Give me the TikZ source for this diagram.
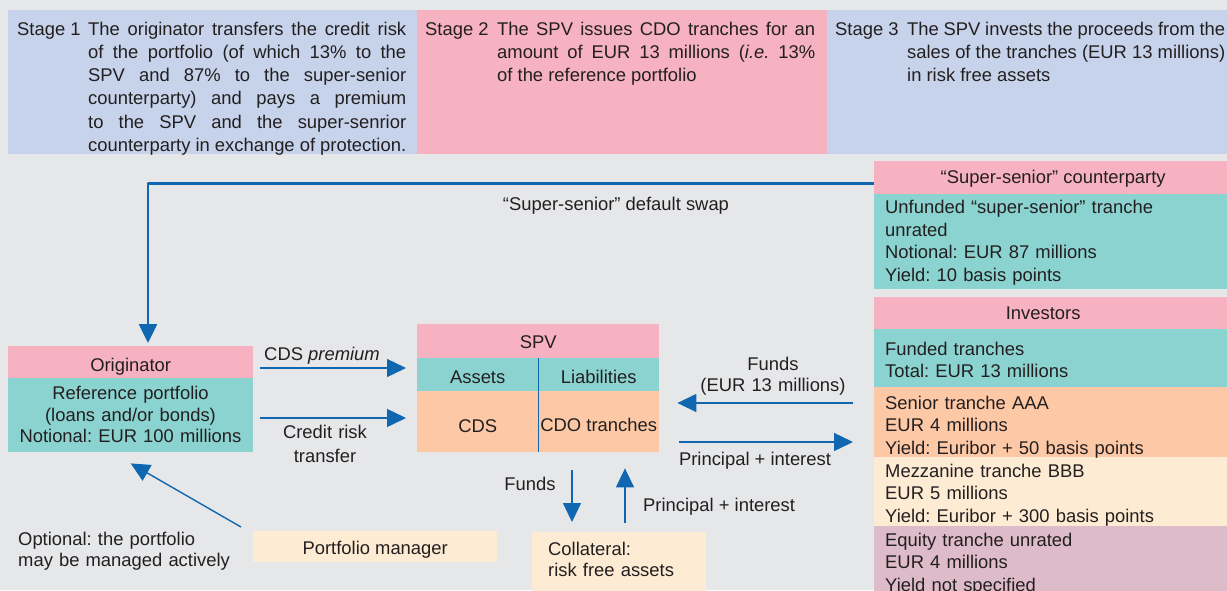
\documentclass[tikz,border=0pt]{standalone}
\usepackage{fontspec}
\setmainfont{Liberation Sans}
\usetikzlibrary{arrows.meta}
\frenchspacing

\definecolor{bggray}{HTML}{E6E7E9}
\definecolor{stageblue}{HTML}{C6D3EA}
\definecolor{boxpink}{HTML}{F6B2C0}
\definecolor{boxteal}{HTML}{8BD3D0}
\definecolor{boxorange}{HTML}{FDC8A5}
\definecolor{boxcream}{HTML}{FEEBD3}
\definecolor{boxmauve}{HTML}{DDBBC9}
\definecolor{flowblue}{HTML}{0F67B1}
\definecolor{inkgray}{HTML}{231F20}

\begin{document}
\begin{tikzpicture}[x=1pt, y=-1pt, font=\fontsize{18.4}{22.7}\selectfont, text=inkgray,
    >={Triangle[length=19pt,width=18pt]}, line join=round,
    cell/.style={fill=#1, anchor=north west, inner sep=0pt, text height=13.2pt, text depth=0pt},
    txt/.style={anchor=base west, inner sep=0pt, align=left},
    flow/.style={->, flowblue, line width=1.4pt}]
	\path[use as bounding box, fill=bggray] (0,0) rectangle (1227,590);

	% stages
	\node[cell=stageblue, minimum width=409pt, minimum height=144pt] (stage1) at (8,10) {};
	\node[cell=boxpink, minimum width=410pt, minimum height=144pt] (stage2) at (417,10) {};
	\node[cell=stageblue, minimum width=400pt, minimum height=144pt] (stage3) at (827,10) {};
	\node[txt] (stage1no) at (17,35) {Stage 1};
	\node[txt] (stage2no) at (425,35) {Stage 2};
	\node[txt] (stage3no) at (835,35) {Stage 3};
	\begin{scope}[every node/.style={txt, text width=318pt, align=justify, font=\fontsize{18.4}{23.3}\selectfont}]
		\node (stage1txt) at (88,35) {The originator transfers the credit risk\linebreak of the portfolio (of which 13\% to the\linebreak SPV and 87\% to the super-senior\linebreak counterparty) and pays a premium\linebreak to the SPV and the super-senrior\linebreak counterparty in exchange of protection.};
		\node (stage2txt) at (497,35) {The SPV issues CDO tranches for an\linebreak amount of EUR 13 millions (\textit{i.e.} 13\%\linebreak of the reference portfolio};
		\node (stage3txt) at (907,35) {The SPV invests the proceeds from the\linebreak sales of the tranches (EUR 13 millions)\linebreak in risk free assets};
	\end{scope}

	% originator, SPV, collateral
	\node[cell=boxpink, minimum width=245pt, minimum height=32pt, text height=18pt] (orighead) at (8,346) {Originator};
	\node[cell=boxteal, minimum width=245pt, minimum height=74pt] (origbody) at (8,378) {};
	\node[txt, anchor=base, text width=245pt, align=center, font=\fontsize{18.4}{21.7}\selectfont] (origtxt) at (130.5,399.5) {Reference portfolio\\(loans and/or bonds)\\Notional: EUR 100 millions};
	\node[cell=boxpink, minimum width=242pt, minimum height=34pt, text height=14pt] (spvhead) at (417,324) {SPV};
	\node[cell=boxteal, minimum width=121pt, minimum height=33pt, text height=17pt] (spvassets) at (417,358) {Assets};
	\node[cell=boxteal, minimum width=121pt, minimum height=33pt, text height=17pt] (spvliab) at (538,358) {Liabilities};
	\node[cell=boxorange, minimum width=121pt, minimum height=61pt, text height=21pt] (spvcds) at (417,391) {CDS};
	\node[cell=boxorange, minimum width=121pt, minimum height=61pt, text height=20pt] (spvcdo) at (538,391) {CDO tranches};
	\draw[flowblue, line width=1.4pt] (spvassets.north east) -- (spvcds.south east);
	\node[cell=boxcream, minimum width=244pt, minimum height=31pt, text height=16pt] (pmgr) at (253,531) {Portfolio manager};
	\node[cell=boxcream, minimum width=174pt, minimum height=66pt] (coll) at (532,532) {};
	\node[txt, text width=150pt, font=\fontsize{18.4}{21.7}\selectfont] (colltxt) at (548,555) {Collateral:\\risk free assets};
	\node[txt, text width=240pt, font=\fontsize{18.4}{21.7}\selectfont] (opttxt) at (18,545) {Optional: the portfolio\\may be managed actively};

	% counterparty and investors
	\node[cell=boxpink, minimum width=353pt, minimum height=33pt, text height=11pt] (sschead) at (874,161) {\hspace*{5pt}“Super-senior” counterparty};
	\node[cell=boxteal, minimum width=353pt, minimum height=95pt] (sscbody) at (874,194) {};
	\node[txt, text width=331pt] (ssctxt) at (885,213.3) {Unfunded “super-senior” tranche\\unrated\\Notional: EUR 87 millions\\Yield: 10 basis points};
	\node[cell=boxpink, minimum width=353pt, minimum height=32pt] (invhead) at (874,297) {Investors\hspace*{15pt}};
	\node[cell=boxteal, minimum width=353pt, minimum height=58pt] (invfund) at (874,329) {};
	\node[cell=boxorange, minimum width=353pt, minimum height=70pt] (invsen) at (874,387) {};
	\node[cell=boxcream, minimum width=353pt, minimum height=69pt] (invmezz) at (874,457) {};
	\node[cell=boxmauve, minimum width=353pt, minimum height=72pt] (invequ) at (874,526) {};
	\node[txt, text width=331pt] (fundtxt) at (885,355) {Funded tranches\\Total: EUR 13 millions};
	\node[txt, text width=331pt] (sentxt) at (885,409) {Senior tranche AAA\\EUR 4 millions\\Yield: Euribor + 50 basis points};
	\node[txt, text width=331pt] (mezztxt) at (885,477) {Mezzanine tranche BBB\\EUR 5 millions\\Yield: Euribor + 300 basis points};
	\node[txt, text width=331pt] (equtxt) at (885,546) {Equity tranche unrated\\EUR 4 millions\\Yield not specified};

	% flows
	\coordinate (cdsrow) at (0,368);
	\coordinate (riskrow) at (0,418);
	\coordinate (fundsrow) at (0,403);
	\coordinate (prinrow) at (0,442);
	\coordinate (downcol) at (572,0);
	\coordinate (upcol) at (625,0);
	\draw[flow, line width=2.6pt] ([yshift=-5.5pt]sschead.west) -| ([xshift=140pt,yshift=3pt]orighead.north west);
	\node[txt, anchor=base] (swaplbl) at (616,210) {“Super-senior” default swap};
	\draw[flow, shorten <=7pt, shorten >=11pt] (orighead.east |- cdsrow) -- (spvhead.west |- cdsrow);
	\node[txt, anchor=base] (cdslbl) at (322,360) {CDS \textit{premium}};
	\draw[flow, shorten <=7pt, shorten >=11pt] (origbody.east |- riskrow) -- (spvcds.west |- riskrow);
	\node[txt, anchor=base, text width=120pt, align=center, font=\fontsize{18.4}{23.5}\selectfont] (risklbl) at (325,438.5) {Credit risk\\transfer};
	\draw[flow] ([xshift=-12pt,yshift=4pt]pmgr.north west) -- ([yshift=-11pt]origbody.south);
	\draw[flow, shorten <=21pt, shorten >=18pt] (invfund.west |- fundsrow) -- (spvcdo.east |- fundsrow);
	\node[txt, anchor=base, text width=170pt, align=center, font=\fontsize{18.4}{21.7}\selectfont] (fundslbl) at (773,370) {Funds\\(EUR 13 millions)};
	\draw[flow, shorten <=20pt, shorten >=21pt] (spvcdo.east |- prinrow) -- (invsen.west |- prinrow);
	\node[txt, anchor=base] (prinlbl) at (755,465) {Principal + interest};
	\draw[flow, shorten <=18pt, shorten >=10pt] (spvcds.south -| downcol) -- (coll.north -| downcol);
	\node[txt, anchor=base] (downlbl) at (530,490) {Funds};
	\draw[flow, shorten <=9pt, shorten >=16pt] (coll.north -| upcol) -- (spvcdo.south -| upcol);
	\node[txt] (uplbl) at (643,511.7) {Principal + interest};
\end{tikzpicture}
\end{document}
